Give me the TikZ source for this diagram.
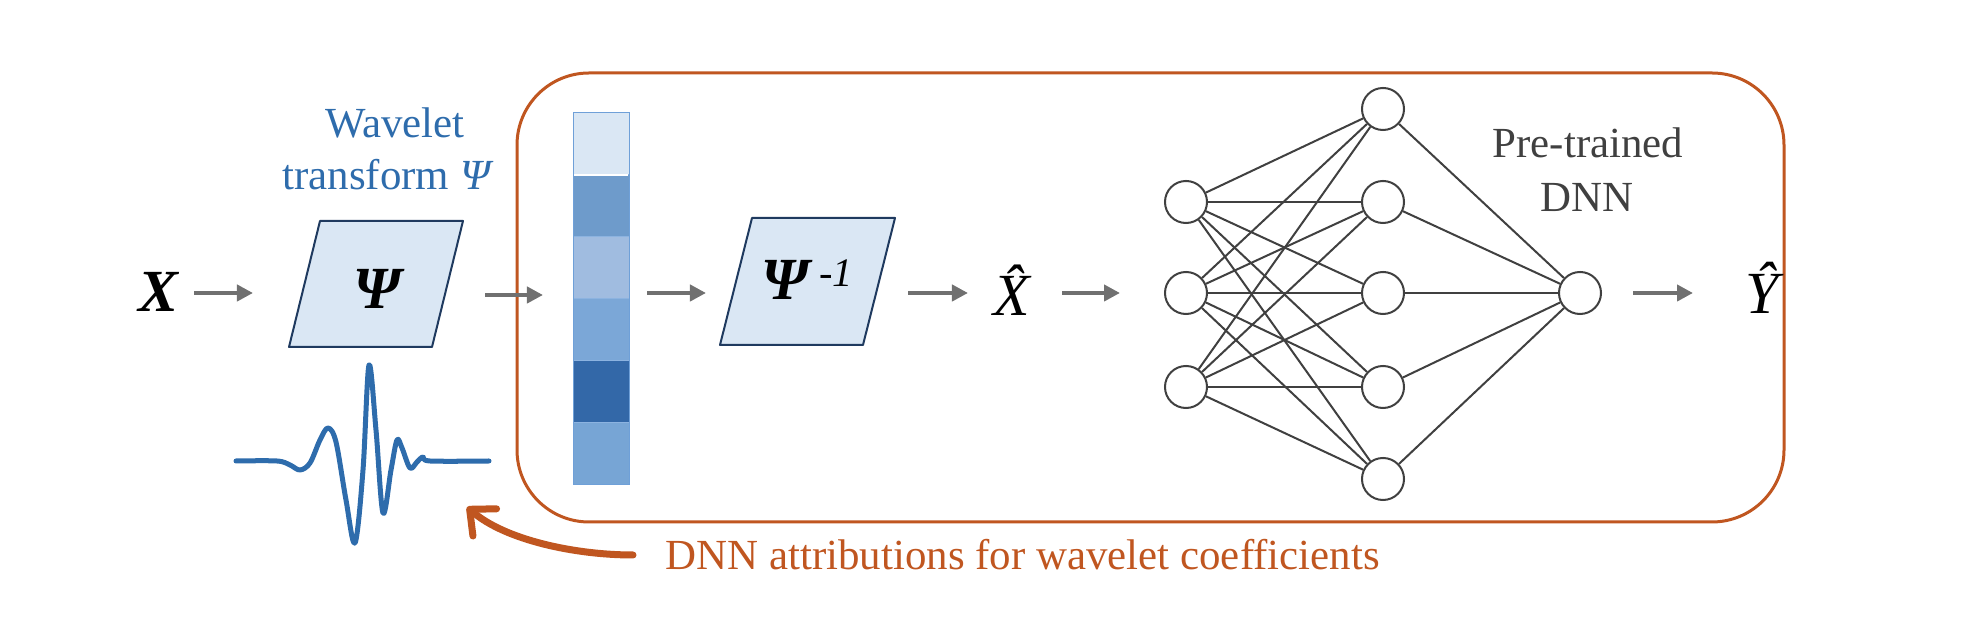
\documentclass[tikz,border=0pt]{standalone}
\usepackage{fontspec}
\setmainfont{Liberation Serif}
\usetikzlibrary{arrows.meta}
\definecolor{orng}{RGB}{192,86,32}
\definecolor{wblue}{RGB}{46,108,172}
\definecolor{pfill}{RGB}{218,231,244}
\definecolor{pdraw}{RGB}{31,58,95}
\definecolor{agray}{RGB}{112,112,112}
\definecolor{ngray}{RGB}{64,64,64}
\definecolor{cA}{RGB}{218,231,244}
\definecolor{cB}{RGB}{110,155,203}
\definecolor{cC}{RGB}{160,188,224}
\definecolor{cD}{RGB}{123,167,215}
\definecolor{cE}{RGB}{51,104,168}
\definecolor{cF}{RGB}{119,165,213}
\definecolor{colb}{RGB}{111,160,216}
\begin{document}
\begin{tikzpicture}[x=0.01cm,y=-0.01cm,
  garrow/.style={draw=agray, line width=0.04cm, -{Triangle[length=0.16cm,width=0.16cm]}},
  neuron/.style={circle, draw=ngray, fill=white, line width=0.02cm, minimum size=0.42cm, inner sep=0pt},
  syn/.style={draw=ngray, line width=0.02cm},
  para/.style={fill=pfill, draw=pdraw, line width=0.02cm, line join=round},
  bigm/.style={inner sep=0pt, font=\fontsize{17}{20}\selectfont\itshape\bfseries},
  hatm/.style={inner sep=0pt, font=\fontsize{17}{20}\selectfont\itshape},
  lbl/.style={inner sep=0pt, font=\fontsize{12.2}{14}\selectfont},
  cell/.style={draw=colb, line width=0.01cm}
]
\useasboundingbox (0,0) rectangle (1984,628);

% orange frame
\draw[orng, line width=0.03cm, rounded corners=0.72cm] (517,73) rectangle (1784,522);

% input X and wavelet transform
\node[bigm] (x) at (158,292) {X};
\node[lbl, wblue, anchor=base] (wt1) at (395,138) {Wavelet};
\node[lbl, wblue, anchor=base] (wt2) at (388,190) {transform \textit{Ψ}};
\draw[para] (320,221) -- (463,221) -- (432,347) -- (289,347) -- cycle;
\node[bigm] (psi) at (377,289) {Ψ};

\coordinate (a1s) at (194,293); \coordinate (a1e) at (253,293);
\draw[garrow] (a1s) -- (a1e);
\coordinate (a2s) at (485,295); \coordinate (a2e) at (543,295);
\draw[garrow] (a2s) -- (a2e);

% wavelet curve
\draw[wblue, line width=0.05cm, line join=round, line cap=round]
  plot[smooth, tension=0.55] coordinates {(236,461) (277,461) (290,465) (300,470) (310,463) (320,440) (328,428) (336,442) (346,500) (355,543) (363,470) (369,365) (376,430) (383,513) (391,470) (397,440) (402,448) (410,468) (417,462) (423,457) (430,461) (489,461)};

% coefficient column
\foreach \c [count=\i from 0] in {cA,cB,cC,cD,cE,cF}{
  \fill[\c] (573,{113+62*\i}) rectangle (629,{175+62*\i});
}
\foreach \i in {1,...,5}{
  \draw[colb!80!white, line width=0.01cm] (573,{113+62*\i}) -- (629,{113+62*\i});
}
\draw[white, line width=0.012cm] (574,175) -- (628,175);
\draw[cell] (573,113) rectangle (629,485);

\coordinate (a3s) at (647,293); \coordinate (a3e) at (706,293);
\draw[garrow] (a3s) -- (a3e);

% inverse transform
\draw[para] (752,218) -- (895,218) -- (863,345) -- (720,345) -- cycle;
\node[bigm, anchor=base] (psiinv) at (807,300) {Ψ\,\raisebox{3.8pt}{\mdseries\fontsize{11.5}{12}\selectfont -1}};

\coordinate (a4s) at (908,293); \coordinate (a4e) at (968,293);
\draw[garrow] (a4s) -- (a4e);
\node[hatm] (xhat) at (1012,290) {\^{X}};

\coordinate (a5s) at (1062,293); \coordinate (a5e) at (1120,293);
\draw[garrow] (a5s) -- (a5e);

% network
\node[neuron] (i1) at (1186,202) {};
\node[neuron] (i2) at (1186,293) {};
\node[neuron] (i3) at (1186,387) {};
\node[neuron] (h1) at (1383,109) {};
\node[neuron] (h2) at (1383,202) {};
\node[neuron] (h3) at (1383,293) {};
\node[neuron] (h4) at (1383,387) {};
\node[neuron] (h5) at (1383,479) {};
\node[neuron] (o) at (1580,293) {};
\foreach \a in {i1,i2,i3}{
  \foreach \b in {h1,h2,h3,h4,h5}{
    \draw[syn] (\a) -- (\b);
  }
}
\foreach \b in {h1,h2,h3,h4,h5}{
  \draw[syn] (\b) -- (o);
}
\node[lbl, ngray, anchor=base] (pt1) at (1588,158) {Pre-trained};
\node[lbl, ngray, anchor=base] (pt2) at (1587,212) {DNN};

\coordinate (a6s) at (1633,293); \coordinate (a6e) at (1693,293);
\draw[garrow] (a6s) -- (a6e);
\node[hatm] (yhat) at (1762,288) {\^{Y}};

% attribution arrow
\node[lbl, orng, anchor=base west] (attr) at (665,570) {DNN attributions for wavelet coefficients};
\coordinate (bs) at (633,555);
\coordinate (be) at (467,507);
\draw[orng, line width=0.07cm, line cap=round, -{Straight Barb[length=0.2cm,width=0.36cm,round]}]
  (bs) .. controls (575,555) and (505,540) .. (be);
\end{tikzpicture}
\end{document}
